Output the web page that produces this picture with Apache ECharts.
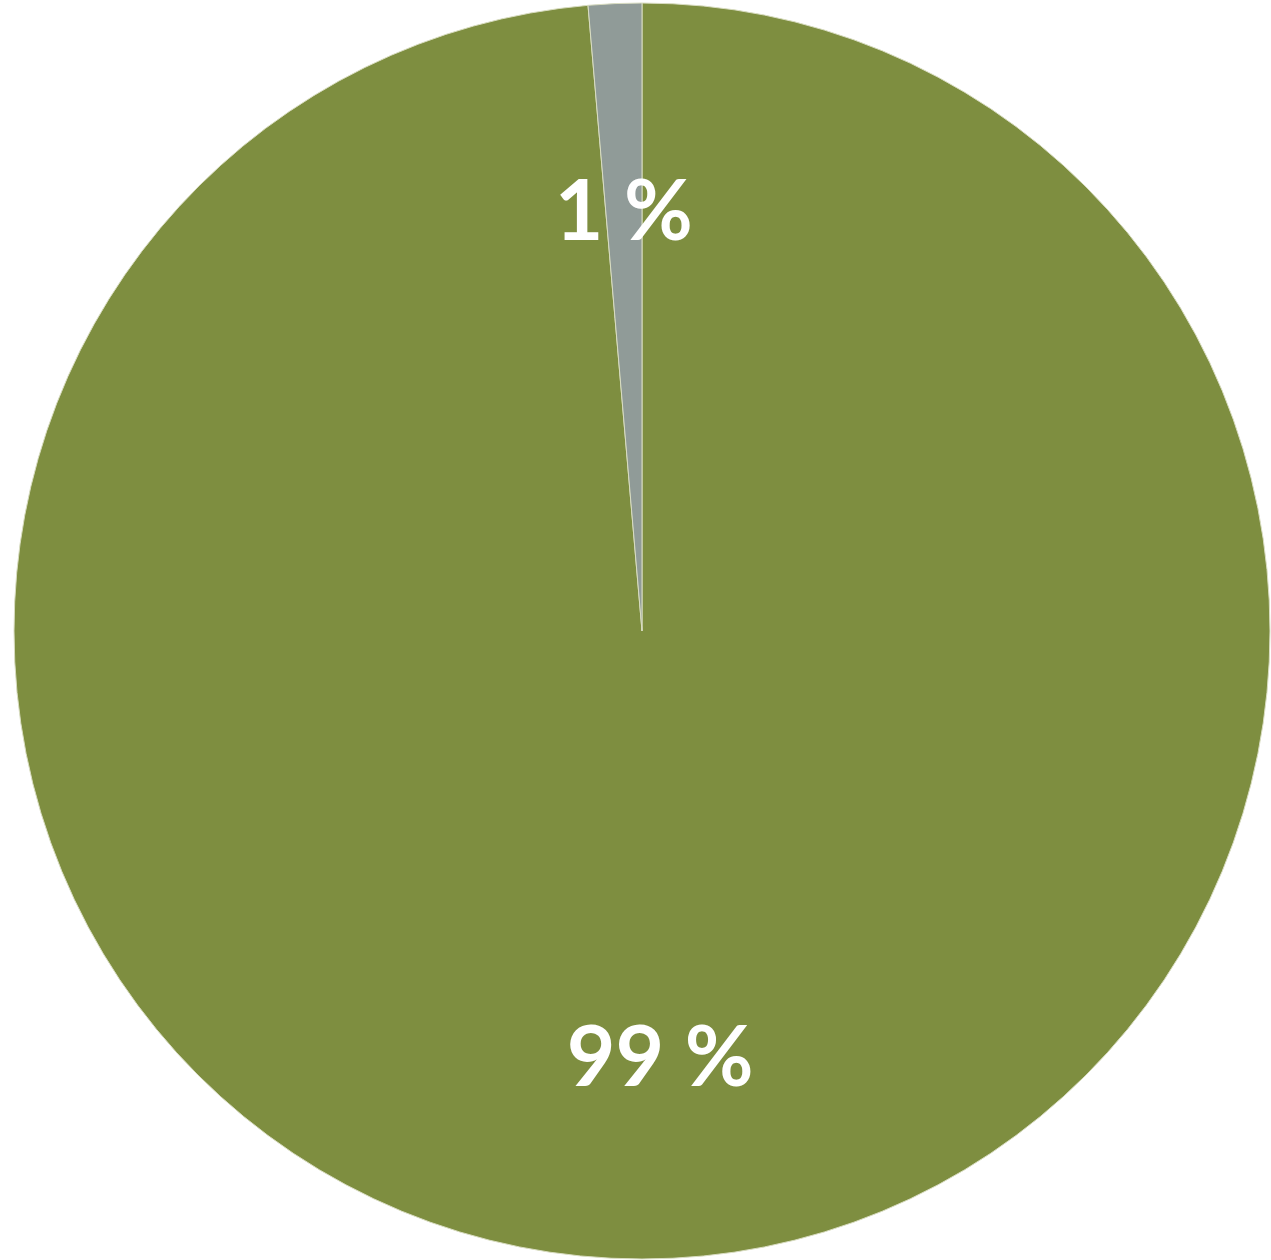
<!DOCTYPE html>
<html><head><meta charset="utf-8">
<script src="https://cdn.jsdelivr.net/npm/echarts@6/dist/echarts.min.js"></script>
<style>html,body{margin:0;padding:0;background:#fff}#c{width:1271px;height:1260px}</style>
</head><body><div id="c"></div>
<script>
const categories = ['A', 'B'];
const values = [98.63, 1.37];
const labels = ['99 %', '1 %'];
const colors = ['#7e8e40', '#909b98'];

const data = categories.map((c, i) => ({ name: c, value: values[i], label: { formatter: labels[i] } }));
const chart = echarts.init(document.getElementById('c'));
chart.setOption({
  animation: false,
  series: [
    {
      type: 'pie', center: [642, 631], radius: [0, 628], startAngle: 90, clockwise: true,
      data: data.map((d, i) => ({ name: d.name, value: d.value, itemStyle: { color: colors[i] } })),
      itemStyle: { borderColor: '#d8dcc0', borderWidth: 1 },
      label: { show: false }, labelLine: { show: false }, silent: true
    },
    {
      type: 'pie', center: [642, 636], radius: [0, 840], startAngle: 90, clockwise: true,
      data: data,
      itemStyle: { color: 'rgba(0,0,0,0)', borderWidth: 0 },
      label: { show: true, position: 'inside', color: '#ffffff', fontSize: 84, fontFamily: 'Lato', fontWeight: 'bold' },
      labelLine: { show: false }, silent: true
    }
  ]
});
</script></body></html>
